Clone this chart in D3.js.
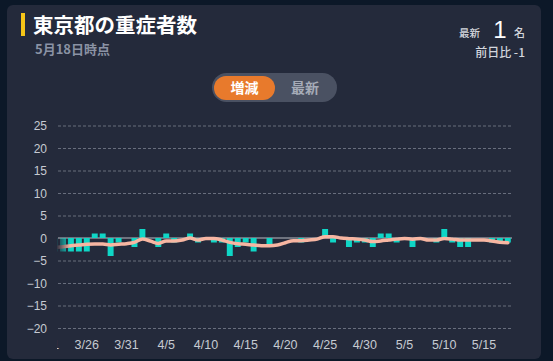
<!DOCTYPE html>
<html><head><meta charset="utf-8">
<script src="https://cdn.jsdelivr.net/npm/d3@7"></script>
<style>html,body{margin:0;padding:0;background:#0c1828;overflow:hidden;} svg{display:block;}</style>
</head><body><svg id="c" width="553" height="361"></svg>
<script>
const dates = ["3/21","3/22","3/23","3/24","3/25","3/26","3/27","3/28","3/29","3/30","3/31",
  "4/1","4/2","4/3","4/4","4/5","4/6","4/7","4/8","4/9","4/10","4/11","4/12","4/13","4/14","4/15",
  "4/16","4/17","4/18","4/19","4/20","4/21","4/22","4/23","4/24","4/25","4/26","4/27","4/28","4/29","4/30",
  "5/1","5/2","5/3","5/4","5/5","5/6","5/7","5/8","5/9","5/10","5/11","5/12","5/13","5/14","5/15","5/16","5/17","5/18"];
const dailyChange = [-2,-3,-3,-3,-3,-3,1,1,-4,-1,0,
  -2,2,0,-2,1,-1,0,1,-1,0,-1,-1,-4,-2,-1,
  -3,0,-2,0,0,0,-1,0,0,2,-1,0,-2,-1,-1,
  -2,1,1,-1,0,-2,0,0,-1,2,-1,-2,-2,0,0,-1,-1,-1];
const movingAvg = [-2.2,-2.1,-1.95,-1.7,-1.57,-1.4,-1.35,-1.35,-1.55,-1.4,-1.27,
  -0.97,-0.23,-0.67,-1.2,-0.67,-0.67,-0.45,0,-0.45,-0.1,-0.1,-0.45,-0.97,-1.27,-1.4,
  -1.57,-1.7,-1.7,-1.57,-1.05,-0.6,-0.6,-0.45,-0.25,0.3,0.3,0,-0.15,-0.25,-0.45,
  -0.8,-0.65,-0.45,-0.25,-0.1,-0.25,-0.1,-0.45,-0.45,-0.1,-0.25,-0.45,-0.45,-0.45,-0.45,-0.65,-0.97,-1.05];
const yTicks = [25,20,15,10,5,0,-5,-10,-15,-20];
const xTickLabels = ["3/21","3/26","3/31","4/5","4/10","4/15","4/20","4/25","4/30","5/5","5/10","5/15"];
const titleText = "東京都の重症者数";
const subtitleText = "5月18日時点";
const latestValue = "1";
const dayDiffText = "前日比 -1";
const toggleLabels = ["増減","最新"];

const svg = d3.select("#c");
const cardColor = "#242a3b";
const cjk = "'Noto Sans CJK JP','Noto Sans',sans-serif";
const latin = "'Liberation Sans',Arial,sans-serif";

svg.append("rect").attr("width",553).attr("height",361).attr("fill","#0c1828");
svg.append("rect").attr("x",7).attr("y",5).attr("width",534).attr("height",354).attr("rx",6).attr("fill",cardColor);

// header
svg.append("rect").attr("x",21).attr("y",13).attr("width",4).attr("height",23).attr("fill","#f5c518");
svg.append("text").attr("x",33).attr("y",32.5).text(titleText)
  .attr("font-family",cjk).attr("font-weight",700).attr("font-size",20.5).attr("fill","#ffffff");
svg.append("text").attr("x",35).attr("y",54).text(subtitleText)
  .attr("font-family",cjk).attr("font-weight",700).attr("font-size",13).attr("fill","#8a92a4");

svg.append("text").attr("x",480).attr("y",37).attr("text-anchor","end").text("最新")
  .attr("font-family",cjk).attr("font-size",10.5).attr("font-weight",500).attr("fill","#d3d6dd");
svg.append("text").attr("x",500).attr("y",38).attr("text-anchor","middle").text(latestValue)
  .attr("font-family",latin).attr("font-size",24).attr("font-weight",400).attr("fill","#ffffff");
svg.append("text").attr("x",525).attr("y",37).attr("text-anchor","end").text("名")
  .attr("font-family",cjk).attr("font-size",11).attr("font-weight",500).attr("fill","#d3d6dd");
svg.append("text").attr("x",525).attr("y",56.5).attr("text-anchor","end").text(dayDiffText)
  .attr("font-family",cjk).attr("font-size",12).attr("font-weight",500).attr("fill","#d3d6dd");

// toggle
svg.append("rect").attr("x",212).attr("y",73).attr("width",125).attr("height",29).attr("rx",14.5).attr("fill","#4a5162");
svg.append("rect").attr("x",214).attr("y",76).attr("width",61).attr("height",24).attr("rx",12).attr("fill","#e87a2c");
svg.append("text").attr("x",244.5).attr("y",93).attr("text-anchor","middle").text(toggleLabels[0])
  .attr("font-family",cjk).attr("font-weight",700).attr("font-size",14).attr("fill","#ffffff");
svg.append("text").attr("x",305).attr("y",93).attr("text-anchor","middle").text(toggleLabels[1])
  .attr("font-family",cjk).attr("font-weight",700).attr("font-size",14).attr("fill","#a5abb7");

// scales
const x = d3.scaleBand().domain(dates).range([43.1, 511.8]).paddingInner(0.25).paddingOuter(0.125);
const y = d3.scaleLinear().domain([-20,25]).range([328,125.5]);

const defs = svg.append("defs");
defs.append("clipPath").attr("id","clip").append("rect").attr("x",57).attr("y",110).attr("width",458).attr("height",245);
const grad = defs.append("linearGradient").attr("id","fade").attr("gradientUnits","userSpaceOnUse")
  .attr("x1",56).attr("x2",70).attr("y1",0).attr("y2",0);
grad.append("stop").attr("offset",0).attr("stop-color","#000");
grad.append("stop").attr("offset",1).attr("stop-color","#fff");
const mask = defs.append("mask").attr("id","fadeMask").attr("maskUnits","userSpaceOnUse")
  .attr("x",0).attr("y",0).attr("width",553).attr("height",361);
mask.append("rect").attr("x",0).attr("y",0).attr("width",553).attr("height",361).attr("fill","url(#fade)");

// grid
const yAxis = d3.axisLeft(y).tickValues(yTicks).tickSize(0).tickPadding(0);
const yg = svg.append("g").attr("transform","translate(47,0)").call(yAxis);
yg.select(".domain").remove();
yg.selectAll("text").attr("font-family",latin).attr("font-size",12).attr("fill","#c6cad2").attr("dy","0.35em");

svg.append("g").selectAll("line").data(yTicks.filter(d=>d!==0)).join("line")
  .attr("x1",58).attr("x2",512).attr("y1",d=>y(d)+0.5).attr("y2",d=>y(d)+0.5)
  .attr("stroke","#686e7d").attr("stroke-width",1).attr("stroke-dasharray","3,2");
svg.append("line").attr("x1",58).attr("x2",512).attr("y1",y(0)).attr("y2",y(0))
  .attr("stroke","#b9bcc4").attr("stroke-width",1);

// data
const data = dates.map((d,i)=>({date:d, v:dailyChange[i], avg:movingAvg[i]}));
const plot = svg.append("g").attr("clip-path","url(#clip)").append("g").attr("mask","url(#fadeMask)");
plot.selectAll("rect.bar").data(data).join("rect").attr("class","bar")
  .attr("x",d=>x(d.date)).attr("width",x.bandwidth())
  .attr("y",d=>y(Math.max(0,d.v))).attr("height",d=>Math.abs(y(d.v)-y(0)))
  .attr("fill","#0fd6c6");
const line = d3.line().x(d=>x(d.date)+x.bandwidth()/2).y(d=>y(d.avg)).curve(d3.curveMonotoneX);
plot.append("path").datum(data).attr("d",line).attr("fill","none")
  .attr("stroke","#f7b6a2").attr("stroke-width",3.5).attr("stroke-linecap","round").attr("stroke-linejoin","round");

// x axis labels
const xAxis = d3.axisBottom(x).tickValues(xTickLabels).tickSize(0).tickPadding(0);
const xg = svg.append("g").attr("clip-path","url(#clip)").append("g").attr("transform","translate(0,340)").call(xAxis);
xg.select(".domain").remove();
xg.selectAll("text").attr("font-family",latin).attr("font-size",12.5).attr("fill","#c6cad2").attr("dy","0").attr("y",9);
</script></body></html>
